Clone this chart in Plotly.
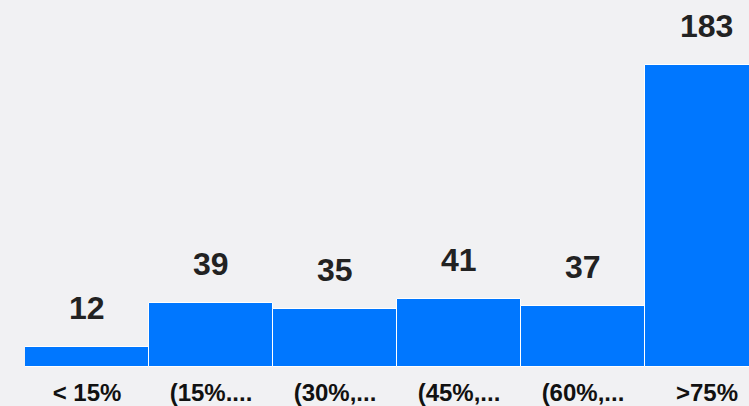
import plotly.graph_objects as go

categories = ["< 15%", "(15%....", "(30%,...", "(45%,...", "(60%,...", ">75%"]
values = [12, 39, 35, 41, 37, 183]

fig = go.Figure()
fig.add_trace(go.Bar(
    x=categories, y=values,
    marker=dict(color="#0077FF", line=dict(color="#FFFFFF", width=1)),
    hoverinfo="skip",
))
for c, v in zip(categories, values):
    fig.add_annotation(x=c, y=v, text=str(v), showarrow=False, yanchor="bottom",
                       yshift=19, font=dict(family="Liberation Sans, Arial", size=32, color="#222222"),
                       xref="x", yref="y")
fig.update_layout(
    width=749, height=406,
    margin=dict(l=25, r=0, t=0, b=39),
    paper_bgcolor="#F1F1F3", plot_bgcolor="#F1F1F3",
    bargap=0,
    showlegend=False,
    xaxis=dict(range=[-0.5, 5.339], showgrid=False, zeroline=False, showline=False,
               ticks="", ticklabelstandoff=9,
               tickfont=dict(family="Liberation Sans, Arial", size=24, color="#111111", weight="bold")),
    yaxis=dict(range=[0, 222.4], visible=False),
)
fig.update_annotations(font_weight="bold")
fig.write_html("out.html")
